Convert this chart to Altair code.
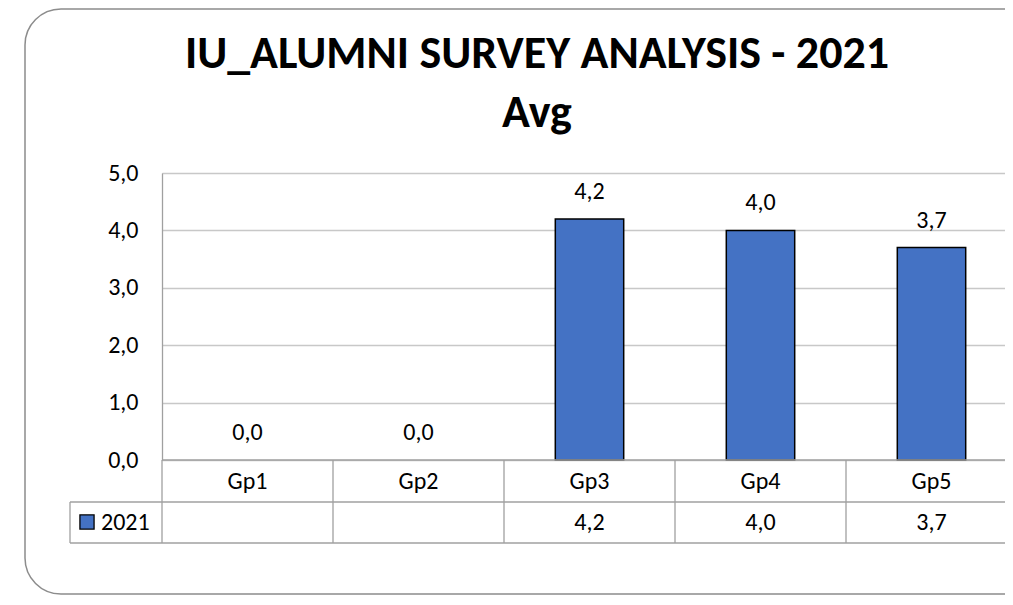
import altair as alt
import pandas as pd

# ---- data ----
categories = ["Gp1", "Gp2", "Gp3", "Gp4", "Gp5"]
values_2021 = [0.0, 0.0, 4.2, 4.0, 3.7]
table_values = ["", "", "4,2", "4,0", "3,7"]
series_name = "2021"
y_ticks = [0, 1, 2, 3, 4, 5]
title_main = "IU_ALUMNI SURVEY ANALYSIS - 2021"
title_sub = "Avg"

df = pd.DataFrame({"cat": categories, "i": list(range(len(categories))),
                   "v": values_2021, "t": table_values})
bounds = pd.DataFrame({"b": list(range(len(categories) + 1))})
one = pd.DataFrame({"s": [series_name], "t1": [title_main], "t2": [title_sub]})

W, H = 843, 287
STEP = 171
FONT = "Carlito, Lato, 'Open Sans', sans-serif"
FS = 24
BLUE = "#4472C4"
GRID = "#c8c8c8"
LINE = "#a0a0a0"

x_scale = alt.Scale(domain=[0, W / STEP], nice=False, zero=False)
y_scale = alt.Scale(domain=[0, 5], nice=False)
fmt = "replace(format(datum.value, '.1f'), '.', ',')"

card = alt.Chart(one).mark_rect(fillOpacity=0, stroke="#8c8c8c", strokeWidth=1.5,
                                cornerRadius=36).encode(
    x=alt.value(-137), x2=alt.value(950), y=alt.value(-164), y2=alt.value(421))

title1 = alt.Chart(one).mark_text(font=FONT, fontSize=46, fontWeight="bold",
                                  color="#000000", align="center",
                                  baseline="alphabetic").encode(
    x=alt.value(375), y=alt.value(-105), text="t1:N")
title2 = alt.Chart(one).mark_text(font=FONT, fontSize=46, fontWeight="bold",
                                  color="#000000", align="center",
                                  baseline="alphabetic").encode(
    x=alt.value(375), y=alt.value(-46), text="t2:N")

bars = alt.Chart(df).transform_filter("datum.v > 0").transform_calculate(
    x0="datum.i + 0.3", x1="datum.i + 0.7"
).mark_bar(color=BLUE, stroke="#000000", strokeWidth=1.5).encode(
    x=alt.X("x0:Q", scale=x_scale, axis=None),
    x2="x1:Q",
    y=alt.Y("v:Q", scale=y_scale, axis=alt.Axis(
        values=y_ticks, labelExpr=fmt, grid=True, gridColor=GRID, gridWidth=1.3,
        domainColor=LINE, domainWidth=1.3, ticks=False, labelPadding=24,
        labelFontSize=FS, labelFont=FONT, labelColor="#000000", title=None)),
    y2=alt.datum(0),
)

labels = alt.Chart(df).transform_calculate(
    xc="datum.i + 0.5", lab="replace(format(datum.v, '.1f'), '.', ',')"
).mark_text(font=FONT, fontSize=FS, color="#000000", baseline="middle", dy=-27).encode(
    x=alt.X("xc:Q", scale=x_scale, axis=None),
    y=alt.Y("v:Q", scale=y_scale),
    text="lab:N",
)

# data table below the plot
top_line = alt.Chart(one).mark_rule(color=LINE, strokeWidth=1.5).encode(
    x=alt.value(0), x2=alt.value(W), y=alt.value(H))
row_lines = alt.Chart(pd.DataFrame({"yy": [329, 370]})).mark_rule(
    color=LINE, strokeWidth=1.3).encode(
    x=alt.value(-92), x2=alt.value(W), y=alt.Y("yy:Q", scale=None))
left_line = alt.Chart(one).mark_rule(color=LINE, strokeWidth=1.3).encode(
    x=alt.value(-92), y=alt.value(329), y2=alt.value(370))
col_lines = alt.Chart(bounds).mark_rule(color=LINE, strokeWidth=1.3).encode(
    x=alt.X("b:Q", scale=x_scale, axis=None), y=alt.value(H), y2=alt.value(370))

cat_text = alt.Chart(df).transform_calculate(xc="datum.i + 0.5").mark_text(
    font=FONT, fontSize=FS, color="#000000", baseline="middle").encode(
    x=alt.X("xc:Q", scale=x_scale, axis=None), y=alt.value(309), text="cat:N")
val_text = alt.Chart(df).transform_calculate(xc="datum.i + 0.5").mark_text(
    font=FONT, fontSize=FS, color="#000000", baseline="middle").encode(
    x=alt.X("xc:Q", scale=x_scale, axis=None), y=alt.value(350), text="t:N")

legend_sq = alt.Chart(one).mark_square(size=200, color=BLUE, stroke="#000000",
                                      strokeWidth=1.3, opacity=1).encode(
    x=alt.value(-75), y=alt.value(349))
legend_txt = alt.Chart(one).mark_text(font=FONT, fontSize=FS, color="#000000",
                                      align="left", baseline="middle").encode(
    x=alt.value(-61), y=alt.value(350), text="s:N")

chart = alt.layer(
    card, title1, title2, bars, labels, top_line, row_lines, left_line, col_lines,
    cat_text, val_text, legend_sq, legend_txt
).properties(
    width=W, height=H,
    autosize=alt.AutoSizeParams(type="none"),
    padding={"left": 154, "top": 165, "right": 0, "bottom": 136},
).configure_view(stroke=None).configure(background="#ffffff")

chart.save("out.html", embed_options={"renderer": "svg", "actions": False})
